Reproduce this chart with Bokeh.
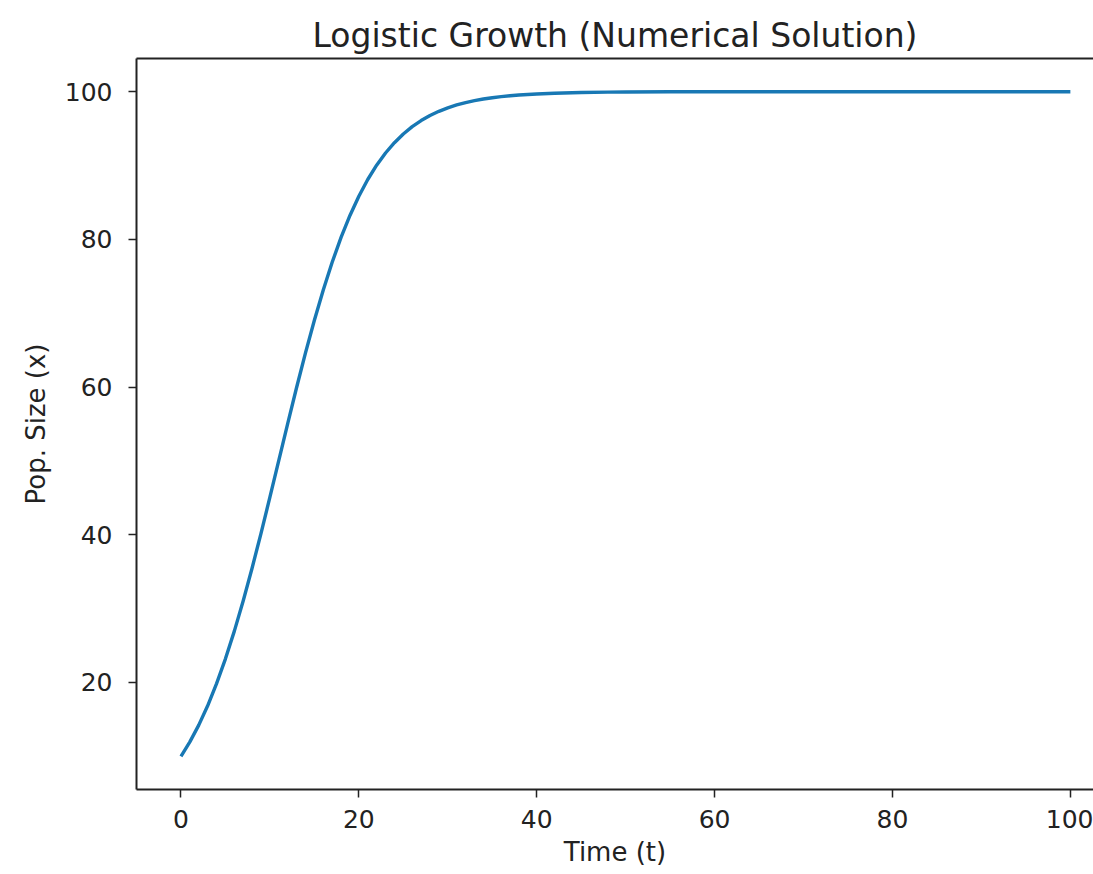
from bokeh.plotting import figure
from bokeh.embed import file_html
from bokeh.resources import INLINE
from bokeh.models import Range1d, FixedTicker, LinearAxis

# Time points and population size
time_t = [0, 1, 2, 3, 4, 5, 6, 7, 8, 9, 10, 11, 12, 13, 14, 15, 16, 17, 18, 19,
          20, 21, 22, 23, 24, 25, 26, 27, 28, 29, 30, 31, 32, 33, 34, 35, 36,
          37, 38, 39, 40, 42, 45, 48, 50, 55, 60, 70, 80, 90, 100]
pop_x = [10.00, 11.95, 14.22, 16.84, 19.83, 23.20, 26.95, 31.06, 35.50, 40.19,
         45.09, 50.07, 55.05, 59.94, 64.63, 69.06, 73.16, 76.90, 80.27, 83.24,
         85.85, 88.11, 90.05, 91.70, 93.10, 94.28, 95.27, 96.09, 96.78, 97.35,
         97.82, 98.21, 98.53, 98.79, 99.01, 99.19, 99.33, 99.45, 99.55, 99.63,
         99.70, 99.80, 99.89, 99.94, 99.96, 99.99, 99.99, 100.00, 100.00,
         100.00, 100.00]

x_ticks = [0, 20, 40, 60, 80, 100]
y_ticks = [20, 40, 60, 80, 100]

FONT = "DejaVu Sans"
INK = "#222222"

p = figure(width=1093, height=874, output_backend="svg", toolbar_location=None,
           x_range=Range1d(-5, 102.6), y_range=Range1d(5.5, 104.5),
           min_border_left=136, min_border_right=0, min_border_top=58,
           min_border_bottom=85)

bottom_axis = p.below[0]
left_axis = p.left[0]

p.title.text = "Logistic Growth (Numerical Solution)"
p.title.align = "center"
p.title.text_font = FONT
p.title.text_font_size = "33px"
p.title.text_font_style = "normal"
p.title.text_color = INK
p.title.standoff = 8

p.line(time_t, pop_x, line_color="#1878b4", line_width=3.4, line_join="round")

p.xgrid.visible = False
p.ygrid.visible = False
p.outline_line_color = None

top = LinearAxis(ticker=FixedTicker(ticks=[]))
top.major_label_text_font_size = "0px"
top.major_tick_line_color = None
top.minor_tick_line_color = None
top.major_tick_out = 0
top.major_label_standoff = 0
top.axis_line_color = INK
top.axis_line_width = 2
p.add_layout(top, "above")

for ax in (bottom_axis, left_axis):
    ax.major_label_text_font = FONT
    ax.major_label_text_font_size = "25px"
    ax.major_label_text_color = INK
    ax.axis_label_text_font = FONT
    ax.axis_label_text_font_size = "26px"
    ax.axis_label_text_font_style = "normal"
    ax.axis_label_text_color = INK
    ax.axis_line_color = INK
    ax.axis_line_width = 2
    ax.major_tick_line_color = INK
    ax.major_tick_line_width = 1.5
    ax.major_tick_out = 8
    ax.major_tick_in = 0
    ax.minor_tick_line_color = None

bottom_axis.ticker = FixedTicker(ticks=x_ticks)
left_axis.ticker = FixedTicker(ticks=y_ticks)
bottom_axis.axis_label = "Time (t)"
left_axis.axis_label = "Pop. Size (x)"
bottom_axis.major_label_standoff = 12
left_axis.major_label_standoff = 16
bottom_axis.axis_label_standoff = 6
left_axis.axis_label_standoff = 11

open("out.html", "w").write(file_html(p, INLINE))
